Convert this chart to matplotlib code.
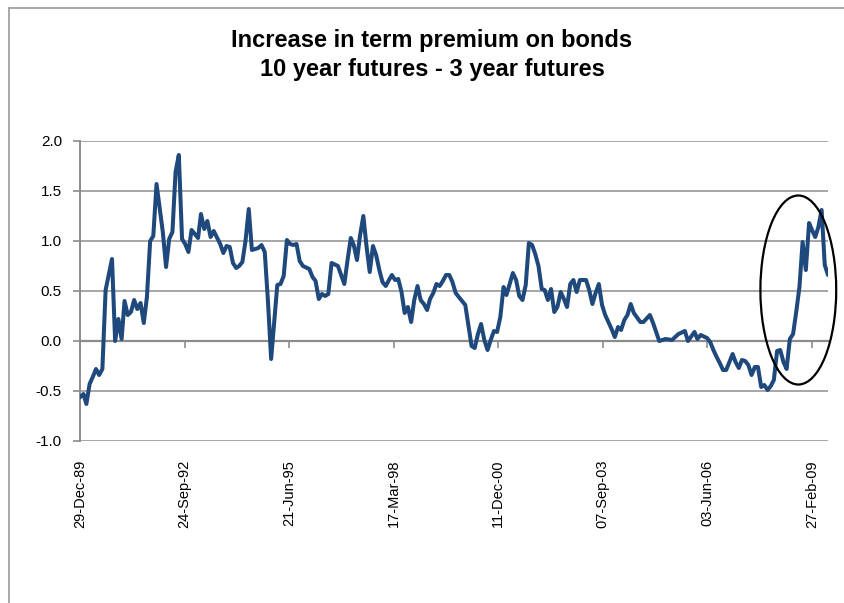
import matplotlib
matplotlib.use("Agg")
import matplotlib.pyplot as plt
import matplotlib.dates as mdates
from matplotlib.patches import Ellipse
from matplotlib.lines import Line2D
from matplotlib.ticker import FuncFormatter, MultipleLocator
import pandas as pd

plt.rcParams['font.family'] = ['Liberation Sans', 'DejaVu Sans']

TITLE = "Increase in term premium on bonds\n10 year futures - 3 year futures"
START = "1989-12-29"
TICK_STEP_DAYS = 1000
N_TICKS = 8

months = [
    "1989-12", "1990-01", "1990-02", "1990-03", "1990-04", "1990-05", "1990-06", "1990-07", "1990-08", "1990-10",
    "1990-11", "1990-12", "1991-01", "1991-02", "1991-03", "1991-04", "1991-05", "1991-06", "1991-07", "1991-08",
    "1991-09", "1991-10", "1991-11", "1991-12", "1992-02", "1992-03", "1992-04", "1992-05", "1992-06", "1992-07",
    "1992-08", "1992-09", "1992-10", "1992-11", "1993-01", "1993-02", "1993-03", "1993-04", "1993-05", "1993-06",
    "1993-08", "1993-09", "1993-10", "1993-11", "1993-12", "1994-01", "1994-02", "1994-03", "1994-04", "1994-05",
    "1994-06", "1994-08", "1994-09", "1994-10", "1994-11", "1994-12", "1995-02", "1995-03", "1995-04", "1995-05",
    "1995-06", "1995-07", "1995-08", "1995-09", "1995-10", "1995-12", "1996-01", "1996-02", "1996-03", "1996-04",
    "1996-05", "1996-06", "1996-07", "1996-09", "1996-10", "1996-11", "1996-12", "1997-01", "1997-02", "1997-03",
    "1997-04", "1997-05", "1997-06", "1997-07", "1997-08", "1997-09", "1997-10", "1997-11", "1997-12", "1998-01",
    "1998-02", "1998-03", "1998-04", "1998-05", "1998-06", "1998-07", "1998-08", "1998-09", "1998-10", "1998-11",
    "1998-12", "1999-01", "1999-02", "1999-03", "1999-04", "1999-05", "1999-06", "1999-07", "1999-08", "1999-09",
    "1999-10", "1999-11", "2000-01", "2000-02", "2000-03", "2000-04", "2000-05", "2000-06", "2000-07", "2000-08",
    "2000-09", "2000-10", "2000-11", "2000-12", "2001-01", "2001-02", "2001-03", "2001-04", "2001-05", "2001-06",
    "2001-07", "2001-08", "2001-09", "2001-10", "2001-11", "2001-12", "2002-01", "2002-02", "2002-03", "2002-04",
    "2002-05", "2002-06", "2002-07", "2002-08", "2002-09", "2002-10", "2002-11", "2002-12", "2003-01", "2003-03",
    "2003-04", "2003-05", "2003-06", "2003-07", "2003-08", "2003-09", "2003-10", "2003-11", "2003-12", "2004-01",
    "2004-02", "2004-03", "2004-04", "2004-05", "2004-06", "2004-08", "2004-09", "2004-11", "2004-12", "2005-02",
    "2005-04", "2005-06", "2005-08", "2005-10", "2005-11", "2006-01", "2006-02", "2006-03", "2006-05", "2006-06",
    "2006-07", "2006-08", "2006-09", "2006-10", "2006-11", "2007-01", "2007-02", "2007-03", "2007-04", "2007-05",
    "2007-06", "2007-07", "2007-08", "2007-09", "2007-10", "2007-11", "2007-12", "2008-01", "2008-02", "2008-03",
    "2008-04", "2008-05", "2008-06", "2008-07", "2008-08", "2008-09", "2008-10", "2008-11", "2008-12", "2009-01",
    "2009-02", "2009-03", "2009-04", "2009-05", "2009-06", "2009-07",
]

premium = [
    -0.56, -0.53, -0.63, -0.43, -0.36, -0.28, -0.34, -0.28, 0.51, 0.82,
    0.00, 0.22, 0.02, 0.40, 0.26, 0.29, 0.41, 0.32, 0.38, 0.18,
    0.44, 1.00, 1.05, 1.57, 1.09, 0.74, 1.02, 1.09, 1.69, 1.86,
    1.02, 0.97, 0.89, 1.11, 1.03, 1.27, 1.12, 1.20, 1.04, 1.10,
    0.97, 0.88, 0.95, 0.94, 0.78, 0.73, 0.75, 0.79, 1.00, 1.32,
    0.91, 0.93, 0.96, 0.89, 0.41, -0.18, 0.56, 0.57, 0.65, 1.01,
    0.97, 0.96, 0.97, 0.80, 0.75, 0.72, 0.64, 0.60, 0.42, 0.47,
    0.45, 0.47, 0.78, 0.75, 0.66, 0.57, 0.81, 1.03, 0.96, 0.81,
    1.06, 1.25, 0.95, 0.69, 0.95, 0.86, 0.71, 0.59, 0.55, 0.61,
    0.66, 0.61, 0.62, 0.49, 0.28, 0.34, 0.19, 0.41, 0.55, 0.41,
    0.37, 0.31, 0.42, 0.48, 0.57, 0.55, 0.60, 0.66, 0.66, 0.59,
    0.48, 0.44, 0.36, 0.16, -0.05, -0.07, 0.07, 0.17, 0.01, -0.09,
    0.01, 0.10, 0.09, 0.24, 0.54, 0.46, 0.57, 0.68, 0.61, 0.45,
    0.41, 0.56, 0.98, 0.96, 0.87, 0.75, 0.52, 0.51, 0.41, 0.52,
    0.29, 0.34, 0.49, 0.42, 0.34, 0.57, 0.61, 0.49, 0.61, 0.61,
    0.51, 0.37, 0.48, 0.57, 0.36, 0.26, 0.19, 0.12, 0.04, 0.14,
    0.11, 0.21, 0.26, 0.37, 0.28, 0.19, 0.19, 0.26, 0.18, 0.00,
    0.02, 0.01, 0.07, 0.10, 0.00, 0.09, 0.02, 0.06, 0.03, -0.01,
    -0.09, -0.16, -0.22, -0.29, -0.29, -0.13, -0.21, -0.27, -0.19, -0.20,
    -0.24, -0.34, -0.26, -0.26, -0.46, -0.44, -0.49, -0.45, -0.39, -0.10,
    -0.09, -0.21, -0.28, 0.02, 0.07, 0.29, 0.54, 0.99, 0.71, 1.18,
    1.11, 1.04, 1.14, 1.31, 0.76, 0.66,
]

Y_MIN, Y_MAX, Y_STEP = -1.0, 2.0, 0.5

# highlighted region (ellipse): centre date offset (days from START), centre value, size
ELLIPSE_CENTER_DAYS = 6870
ELLIPSE_CENTER_VALUE = 0.51
ELLIPSE_WIDTH_DAYS = 725
ELLIPSE_HEIGHT = 1.89

dates = pd.PeriodIndex(months, freq="M").to_timestamp(how="end").normalize()
dates = dates.where(dates > pd.Timestamp(START), pd.Timestamp(START))
start = pd.Timestamp(START)
ticks = pd.date_range(start, periods=N_TICKS, freq=f"{TICK_STEP_DAYS}D")

W, H = 845, 603
fig = plt.figure(figsize=(W / 100, H / 100), dpi=100)
fig.patch.set_facecolor("white")

# outer chart frame (left and top edges visible)
fx0, fy0 = 9 / W, 1 - 8 / H
fig.add_artist(Line2D([fx0, fx0], [fy0, 0], transform=fig.transFigure, color="#9a9a9a", lw=1.2))
fig.add_artist(Line2D([fx0, 1], [fy0, fy0], transform=fig.transFigure, color="#9a9a9a", lw=1.2))

ax = fig.add_axes([80 / W, 1 - 441 / H, (828 - 80) / W, 300 / H])
ax.set_facecolor("white")

grid_color = "#a6a6a6"
ax.set_ylim(Y_MIN, Y_MAX)
ax.yaxis.set_major_locator(MultipleLocator(Y_STEP))
ax.yaxis.set_major_formatter(FuncFormatter(lambda v, p: f"{v:.1f}".replace("\u2212", "-")))
ax.grid(axis="y", color=grid_color, lw=1.4)
ax.set_axisbelow(True)

ax.plot(dates, premium, color="#1f497d", lw=2.9, solid_joinstyle="round", solid_capstyle="round", zorder=3)

ax.set_xlim(start, dates[-1])
ax.set_xticks(ticks)

for s in ["top", "right"]:
    ax.spines[s].set_visible(False)
ax.spines["left"].set_color("#8c8c8c")
ax.spines["left"].set_linewidth(1.4)
ax.spines["bottom"].set_position(("data", 0))
ax.spines["bottom"].set_color("#8c8c8c")
ax.spines["bottom"].set_linewidth(1.6)

ax.tick_params(axis="y", direction="out", length=5, width=1.2, color="#8c8c8c",
               labelsize=11, pad=8, labelcolor="black")
ax.tick_params(axis="x", direction="out", length=5, width=1.2, color="#8c8c8c", labelbottom=False)

for t in ticks:
    ax.text(t, -0.063, t.strftime("%d-%b-%y"), transform=ax.get_xaxis_transform(),
            rotation=90, ha="center", va="top", fontsize=10.5, color="black")

ell = Ellipse((mdates.date2num(start + pd.Timedelta(days=ELLIPSE_CENTER_DAYS)), ELLIPSE_CENTER_VALUE),
              width=ELLIPSE_WIDTH_DAYS, height=ELLIPSE_HEIGHT, fill=False, ec="black", lw=1.6,
              clip_on=False, zorder=4)
ax.add_patch(ell)

fig.text(432 / W, 1 - 55 / H, TITLE, ha="center", va="center", fontsize=17,
         fontweight="bold", linespacing=1.3)

fig.savefig("out.png", dpi=100, facecolor="white")
